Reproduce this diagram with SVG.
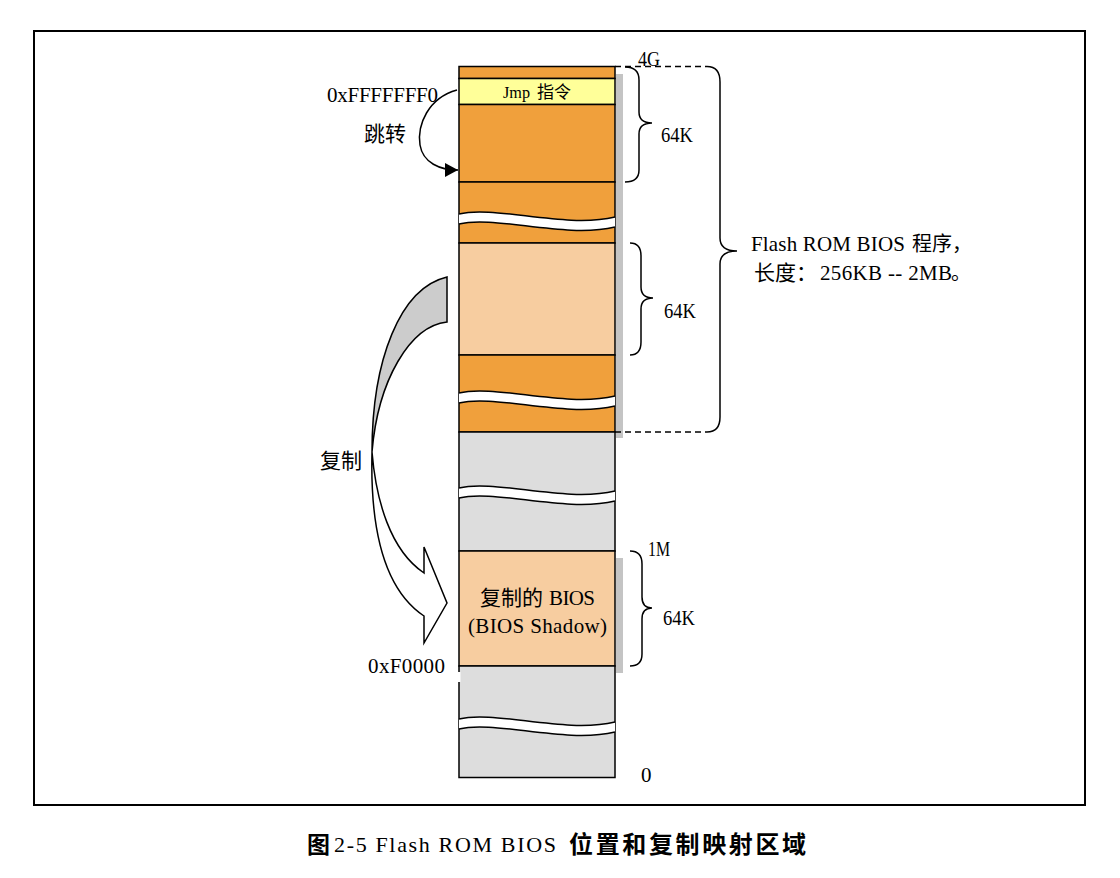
<svg xmlns="http://www.w3.org/2000/svg" xmlns:xlink="http://www.w3.org/1999/xlink" width="1120" height="878" viewBox="0 0 1120 878">
<style>
  .seg { stroke: #000; stroke-width: 1.5; }
  .orange { fill: #F0A03C; }
  .peach { fill: #F7CDA0; }
  .yellow { fill: #FFFF99; }
  .gray { fill: #DDDDDD; }
  .shadow { fill: #C4C4C4; }
  .brace { fill: none; stroke: #000; stroke-width: 1.5; }
  .dash { fill: none; stroke: #000; stroke-width: 1.5; stroke-dasharray: 6 4; }
  .t { font-family: "Liberation Serif", "Noto Sans CJK SC", serif; font-size: 21px; fill: #000; }
  .cjk { font-family: "Noto Sans CJK SC", sans-serif; font-size: 20px; fill: #000; }
  .wavefill { fill: #fff; stroke: none; }
  .waveline { fill: none; stroke: #000; stroke-width: 1.5; }
</style>
<defs>
  <g id="wave">
    <path class="wavefill" d="M459,0 C495,-9 565,15 615,3 L615,13 C565,25 495,1 459,10 Z"/>
    <path class="waveline" d="M459,0 C495,-9 565,15 615,3 M459,10 C495,1 565,25 615,13"/>
  </g>
  <marker id="arrow" markerUnits="userSpaceOnUse" markerWidth="13" markerHeight="14" viewBox="0 0 13 14" refX="13" refY="7" orient="auto">
    <path d="M0,0 L13,7 L0,14 Z" fill="#000"/>
  </marker>
</defs>

<rect width="1120" height="878" fill="#fff"/>
<g id="frame">
  <rect x="34" y="31" width="1051" height="774" fill="none" stroke="#000" stroke-width="2"/>
</g>

<g id="shadows">
  <rect class="shadow" x="616" y="74" width="7" height="364"/>
  <rect class="shadow" x="616" y="558" width="7" height="115"/>
</g>

<g id="column">
  <g id="seg-top"><rect class="seg orange" x="459" y="66.5" width="156" height="12"/></g>
  <g id="seg-jmp">
    <rect class="seg yellow" x="459" y="78.5" width="156" height="26"/>
    <text class="t" x="503" y="98" style="font-size:17px" textLength="27" lengthAdjust="spacingAndGlyphs">Jmp</text>
    <text class="cjk" x="537" y="98" style="font-size:17px">指令</text>
  </g>
  <g id="seg-64k-top"><rect class="seg orange" x="459" y="104.5" width="156" height="77.5"/></g>
  <g id="seg-gap1">
    <rect class="seg orange" x="459" y="182" width="156" height="61"/>
    <use xlink:href="#wave" href="#wave" y="214"/>
  </g>
  <g id="seg-64k-mid"><rect class="seg peach" x="459" y="243" width="156" height="112"/></g>
  <g id="seg-gap2">
    <rect class="seg orange" x="459" y="355" width="156" height="77"/>
    <use xlink:href="#wave" href="#wave" y="393"/>
  </g>
  <g id="seg-gray1">
    <rect class="seg gray" x="459" y="432" width="156" height="119"/>
    <use xlink:href="#wave" href="#wave" y="488"/>
  </g>
  <g id="seg-shadow">
    <rect class="seg peach" x="459" y="551" width="156" height="115"/>
    <text class="cjk" x="480" y="605" style="font-size:21px">复制的</text>
    <text class="t" x="549" y="605" textLength="46" lengthAdjust="spacing">BIOS</text>
    <text class="t" x="468" y="633" textLength="139" lengthAdjust="spacing">(BIOS Shadow)</text>
  </g>
  <g id="seg-gray2">
    <rect class="seg gray" x="459" y="666" width="156" height="111.5"/>
    <use xlink:href="#wave" href="#wave" y="719"/>
    <rect x="457.5" y="672" width="3" height="10" fill="#fff"/>
  </g>
</g>

<g id="braces">
  <path class="brace" d="M625,67 Q639,67 639,80 L639,112 Q639,123 652,123 Q639,123 639,134 L639,170 Q639,182 625,182"/>
  <path class="brace" d="M630,243 Q641,243 641,256 L641,287 Q641,298 653,298 Q641,298 641,309 L641,342 Q641,355 630,355"/>
  <path class="brace" d="M630,551 Q642,551 642,564 L642,597 Q642,608 652,608 Q642,608 642,619 L642,654 Q642,666 630,666"/>
  <path class="brace" d="M707,66.5 Q720,66.5 720,82 L720,238 Q720,251 737,251 Q720,251 720,264 L720,417 Q720,432 707,432"/>
</g>

<g id="connectors">
  <line class="dash" x1="615" y1="66.5" x2="707" y2="66.5"/>
  <line class="dash" x1="615" y1="432" x2="707" y2="432"/>
  <path id="jump-arrow" d="M457,90 C428,98 417,125 420,145 C423,163 440,170 458,170" fill="none" stroke="#000" stroke-width="1.5" marker-end="url(#arrow)"/>
  <g id="copy-arrow" stroke="#000" stroke-width="1.5" stroke-linejoin="miter">
    <path d="M447,277 C400,288 372,360 372,452 C378,380 410,326 447,322 Z" fill="#CCCCCC"/>
    <path d="M372,452 C370,530 385,590 424,616 L424,643 L447,603 L424,547 L424,573 C390,550 376,500 372,452 Z" fill="#fff"/>
  </g>
</g>

<g id="labels">
  <text class="t" x="327" y="102" textLength="111" lengthAdjust="spacing">0xFFFFFFF0</text>
  <text class="cjk" x="364" y="141" style="font-size:21px">跳转</text>
  <text class="t" x="638" y="66" textLength="22" lengthAdjust="spacingAndGlyphs">4G</text>
  <text class="t" x="661" y="142" textLength="32" lengthAdjust="spacingAndGlyphs">64K</text>
  <text class="t" x="664" y="318" textLength="32" lengthAdjust="spacingAndGlyphs">64K</text>
  <text class="t" x="751" y="251" textLength="154" lengthAdjust="spacing">Flash ROM BIOS</text>
  <text class="cjk" x="912" y="251">程序，</text>
  <text class="cjk" x="754" y="280" style="font-size:21px">长度：</text>
  <text class="t" x="820" y="280" textLength="132" lengthAdjust="spacing">256KB -- 2MB</text>
  <text class="cjk" x="951" y="280">。</text>
  <text class="cjk" x="320" y="468" style="font-size:21px">复制</text>
  <text class="t" x="368" y="673" textLength="77" lengthAdjust="spacing">0xF0000</text>
  <text class="t" x="648" y="556" textLength="22" lengthAdjust="spacingAndGlyphs">1M</text>
  <text class="t" x="663" y="625" textLength="32" lengthAdjust="spacingAndGlyphs">64K</text>
  <text class="t" x="641" y="782">0</text>
</g>

<g id="caption">
  <text class="cjk" x="307" y="853" style="font-size:23px;font-weight:bold">图</text>
  <text class="t" x="334" y="852" style="font-size:22px" textLength="222" lengthAdjust="spacing">2-5 Flash ROM BIOS</text>
  <text class="cjk" x="569" y="853" style="font-size:24px;font-weight:bold" textLength="237" lengthAdjust="spacing">位置和复制映射区域</text>
</g>
</svg>
